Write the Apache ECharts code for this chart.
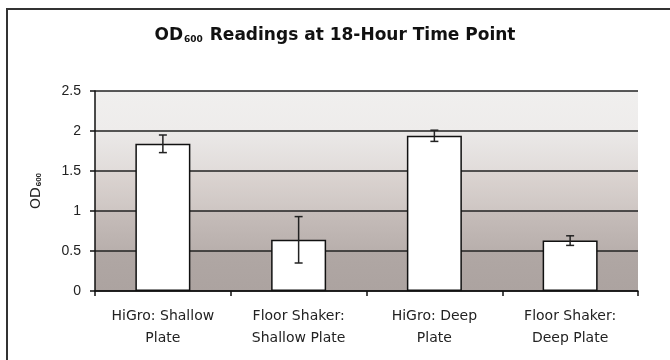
<!DOCTYPE html>
<html>
<head>
<meta charset="utf-8">
<script src="https://cdn.jsdelivr.net/npm/echarts@6/dist/echarts.min.js"></script>
<style>
  html, body { margin: 0; padding: 0; background: #fff; }
  #main { width: 670px; height: 360px; }
</style>
</head>
<body>
<div id="main"></div>
<script>
// data
var categories = ['HiGro: Shallow\nPlate', 'Floor Shaker:\nShallow Plate', 'HiGro: Deep\nPlate', 'Floor Shaker:\nDeep Plate'];
var means = [1.84, 0.64, 1.94, 0.63];
var errors = [0.11, 0.29, 0.07, 0.06];
var yTicks = [0, 0.5, 1, 1.5, 2, 2.5];

var chartDom = document.getElementById('main');
var myChart = echarts.init(chartDom);
var option;

function band(top, bottom) {
    return new echarts.graphic.LinearGradient(0, 0, 0, 1, [
        { offset: 0, color: top },
        { offset: 1, color: bottom }
    ]);
}

var errData = means.map(function (m, i) {
    return [i, m - errors[i], m + errors[i]];
});

option = {
    animation: false,
    textStyle: { fontFamily: 'Liberation Sans, Arial, sans-serif' },
    title: {
        text: '{a|OD}{b|600}{a| Readings at 18-Hour Time Point}',
        left: 'center',
        top: 22,
        textStyle: {
            rich: {
                a: { fontSize: 17, fontWeight: 'bold', color: '#111', fontFamily: 'DejaVu Sans' },
                b: { fontSize: 9, fontWeight: 'bold', color: '#111', verticalAlign: 'bottom', padding: [8, 1, 0, 1], fontFamily: 'DejaVu Sans' }
            }
        }
    },
    graphic: [{
        type: 'rect',
        shape: { x: 7, y: 9, width: 700, height: 400 },
        style: { fill: 'none', stroke: '#333', lineWidth: 2 },
        silent: true
    }],
    grid: { left: 95, right: 32, top: 91, bottom: 69 },
    xAxis: {
        type: 'category',
        data: categories,
        axisLine: { lineStyle: { color: '#111', width: 1.5 } },
        axisTick: { show: true, length: 5, lineStyle: { color: '#111', width: 1.5 } },
        axisLabel: { color: '#222', fontSize: 14, lineHeight: 22, margin: 14, fontFamily: 'DejaVu Sans' },
        splitLine: { show: false }
    },
    yAxis: {
        type: 'value',
        min: yTicks[0],
        max: yTicks[yTicks.length - 1],
        interval: 0.5,
        name: '{a|OD}{b|600}',
        nameLocation: 'middle',
        nameRotate: 90,
        nameGap: 52,
        nameTextStyle: {
            rich: {
                a: { fontSize: 14, color: '#222', fontFamily: 'DejaVu Sans' },
                b: { fontSize: 8, fontWeight: 'bold', color: '#222', verticalAlign: 'bottom', padding: [5, 0, 0, 1] }
            }
        },
        axisLine: { show: true, lineStyle: { color: '#111', width: 1.5 } },
        axisTick: { show: true, length: 5, lineStyle: { color: '#111', width: 1.5 } },
        axisLabel: { color: '#222', fontSize: 14, margin: 14 },
        splitLine: { show: true, lineStyle: { color: '#222', width: 1.5 } },
        splitArea: {
            show: true,
            areaStyle: {
                color: [
                    band('#b0a7a4', '#aca3a0'),
                    band('#c6bdba', '#b8afac'),
                    band('#dcd5d2', '#cec6c3'),
                    band('#ebe9e8', '#e1dcda'),
                    band('#f0efee', '#eeeceb')
                ]
            }
        }
    },
    series: [
        {
            type: 'bar',
            data: means,
            barWidth: 55,
            itemStyle: { color: '#fff', borderColor: '#111', borderWidth: 1.5 },
            z: 3
        },
        {
            type: 'custom',
            data: errData,
            z: 4,
            renderItem: function (params, api) {
                var lo = api.coord([api.value(0), api.value(1)]);
                var hi = api.coord([api.value(0), api.value(2)]);
                var cap = 4;
                var st = { stroke: '#222', lineWidth: 1.5 };
                return {
                    type: 'group',
                    children: [
                        { type: 'line', shape: { x1: hi[0], y1: hi[1], x2: lo[0], y2: lo[1] }, style: st },
                        { type: 'line', shape: { x1: hi[0] - cap, y1: hi[1], x2: hi[0] + cap, y2: hi[1] }, style: st },
                        { type: 'line', shape: { x1: lo[0] - cap, y1: lo[1], x2: lo[0] + cap, y2: lo[1] }, style: st }
                    ]
                };
            }
        }
    ]
};

option && myChart.setOption(option);
</script>
</body>
</html>
